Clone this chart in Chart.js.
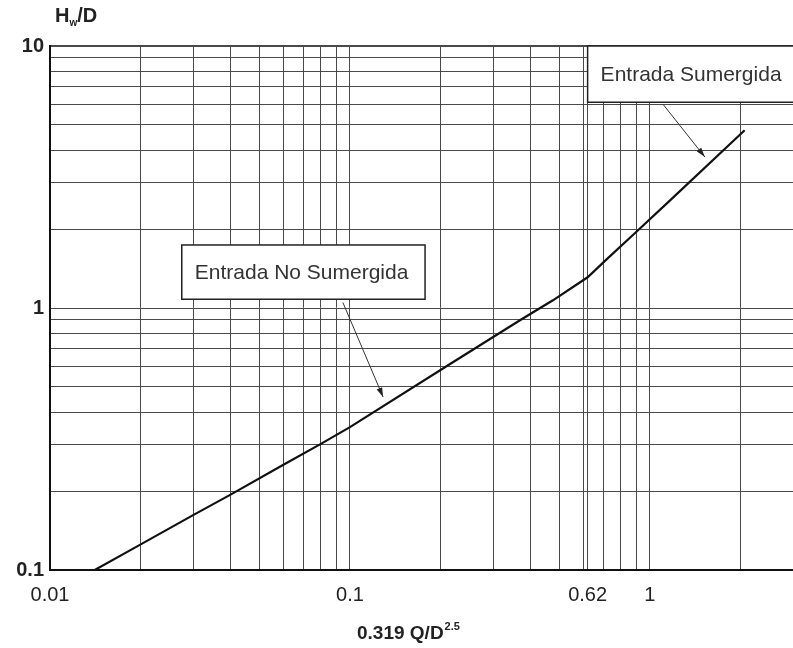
<!DOCTYPE html>
<html>
<head>
<meta charset="utf-8">
<script src="https://cdn.jsdelivr.net/npm/chart.js@4.4.0/dist/chart.umd.min.js"></script>
<style>
  body { margin: 0; background: #fff; }
  #wrap { width: 793px; height: 648px; }
</style>
</head>
<body>
<div id="wrap"><canvas id="chart" width="793" height="648"></canvas></div>
<script>
// ================= DATA =================

// discharge parameter 0.319 Q/D^2.5 and the head ratio Hw/D
const qValues = [0.0141, 0.02, 0.03, 0.04, 0.06, 0.08, 0.1, 0.215, 0.37, 0.475, 0.62, 0.72, 0.9, 1.17, 2.07];
const hwValues = [0.1, 0.125, 0.162, 0.194, 0.252, 0.303, 0.351, 0.61, 0.90, 1.07, 1.31, 1.54, 1.95, 2.58, 4.77];

// grid lines of the log paper
const xGrid = [0.01, 0.02, 0.03, 0.04, 0.05, 0.06, 0.07, 0.08, 0.09,
  0.1, 0.2, 0.3, 0.4, 0.5, 0.6, 0.62, 0.7, 0.8, 0.9, 1, 2, 3];
const yGrid = [0.1, 0.2, 0.3, 0.4, 0.5, 0.6, 0.7, 0.8, 0.9,
  1, 2, 3, 4, 5, 6, 7, 8, 9, 10];

// labelled ticks
const xLabels = [0.01, 0.1, 0.62, 1];
const yLabels = [0.1, 1, 10];

// ================= CALLOUTS =================

const callouts = [
  { text: "Entrada Sumergida", box: [0.62, 3.3, 10, 6.1], from: [1.105, 6.0], to: [1.525, 3.77] },
  { text: "Entrada No Sumergida", box: [0.0275, 0.178, 1.74, 1.08], from: [0.0947, 1.05], to: [0.129, 0.457] }
];

const TEXT_FONT = "'Liberation Sans', Arial, sans-serif";

const paperPlugin = {
  id: "paper",
  afterDatasetsDraw(chart) {
    const ctx = chart.ctx;
    const xs = chart.scales.x;
    const ys = chart.scales.y;

    callouts.forEach(c => {
      const x1 = xs.getPixelForValue(c.box[0]);
      const x2 = Math.min(xs.getPixelForValue(c.box[1]), chart.width + 5);
      const y1 = ys.getPixelForValue(c.box[2]);
      const y2 = ys.getPixelForValue(c.box[3]);

      ctx.save();
      ctx.fillStyle = "#fff";
      ctx.fillRect(x1, y1, x2 - x1, y2 - y1);
      ctx.strokeStyle = "#222";
      ctx.lineWidth = 1.5;
      ctx.strokeRect(x1, y1, x2 - x1, y2 - y1);

      ctx.fillStyle = "#333";
      ctx.font = "21px " + TEXT_FONT;
      ctx.textBaseline = "middle";
      ctx.textAlign = "left";
      ctx.fillText(c.text, x1 + 13, (y1 + y2) / 2 + 1);

      // arrow
      const ax = xs.getPixelForValue(c.from[0]);
      const ay = ys.getPixelForValue(c.from[1]);
      const bx = xs.getPixelForValue(c.to[0]);
      const by = ys.getPixelForValue(c.to[1]);
      ctx.strokeStyle = "#333";
      ctx.lineWidth = 1;
      ctx.beginPath();
      ctx.moveTo(ax, ay);
      ctx.lineTo(bx, by);
      ctx.stroke();
      const ang = Math.atan2(by - ay, bx - ax);
      ctx.fillStyle = "#222";
      ctx.beginPath();
      ctx.moveTo(bx, by);
      ctx.lineTo(bx - 10 * Math.cos(ang - 0.3), by - 10 * Math.sin(ang - 0.3));
      ctx.lineTo(bx - 10 * Math.cos(ang + 0.3), by - 10 * Math.sin(ang + 0.3));
      ctx.closePath();
      ctx.fill();
      ctx.restore();
    });

    // axis titles
    ctx.save();
    ctx.fillStyle = "#222";
    ctx.textBaseline = "alphabetic";
    ctx.textAlign = "left";

    // Hw/D
    let tx = 55;
    ctx.font = "bold 20px " + TEXT_FONT;
    ctx.fillText("H", tx, 22);
    tx += ctx.measureText("H").width;
    ctx.font = "bold 10px " + TEXT_FONT;
    ctx.fillText("w", tx, 26);
    tx += ctx.measureText("w").width;
    ctx.font = "bold 20px " + TEXT_FONT;
    ctx.fillText("/D", tx, 22);

    // 0.319 Q/D^2.5
    tx = 357;
    ctx.font = "bold 19px " + TEXT_FONT;
    ctx.fillText("0.319 Q/D", tx, 639);
    tx += ctx.measureText("0.319 Q/D").width + 1;
    ctx.font = "bold 11px " + TEXT_FONT;
    ctx.fillText("2.5", tx, 630);
    ctx.restore();
  }
};

// ================= CHART =================

new Chart(document.getElementById("chart"), {
  type: "line",
  data: {
    datasets: [{
      data: qValues.map((q, i) => ({ x: q, y: hwValues[i] })),
      borderColor: "#111",
      borderWidth: 2.2,
      pointRadius: 0,
      tension: 0,
      fill: false
    }]
  },
  options: {
    responsive: false,
    animation: false,
    layout: { padding: { top: 46, right: 0, left: 0, bottom: 0 } },
    plugins: {
      legend: { display: false },
      tooltip: { enabled: false }
    },
    scales: {
      x: {
        type: "logarithmic",
        min: 0.01,
        max: 3,
        afterBuildTicks: s => { s.ticks = xGrid.map(v => ({ value: v })); },
        afterFit: s => { s.height = 78; s.paddingLeft = 0; s.paddingRight = 0; },
        grid: { color: "#4a4a4a", lineWidth: 1, drawTicks: false },
        border: { color: "#111", width: 2 },
        ticks: {
          autoSkip: false,
          maxRotation: 0,
          padding: 13,
          color: "#222",
          font: { family: TEXT_FONT, size: 20 },
          callback: v => xLabels.includes(v) ? String(v) : ""
        }
      },
      y: {
        type: "logarithmic",
        min: 0.1,
        max: 10,
        afterBuildTicks: s => { s.ticks = yGrid.map(v => ({ value: v })); },
        afterFit: s => { s.width = 50; s.paddingTop = 0; s.paddingBottom = 0; },
        grid: {
          color: "#4a4a4a",
          lineWidth: c => (c.tick && c.tick.value === 10 ? 2 : 1),
          drawTicks: false
        },
        border: { color: "#111", width: 2 },
        ticks: {
          autoSkip: false,
          padding: 6,
          color: "#222",
          font: { family: TEXT_FONT, size: 20, weight: "bold" },
          callback: v => yLabels.includes(v) ? String(v) : ""
        }
      }
    }
  },
  plugins: [paperPlugin]
});
</script>
</body>
</html>
